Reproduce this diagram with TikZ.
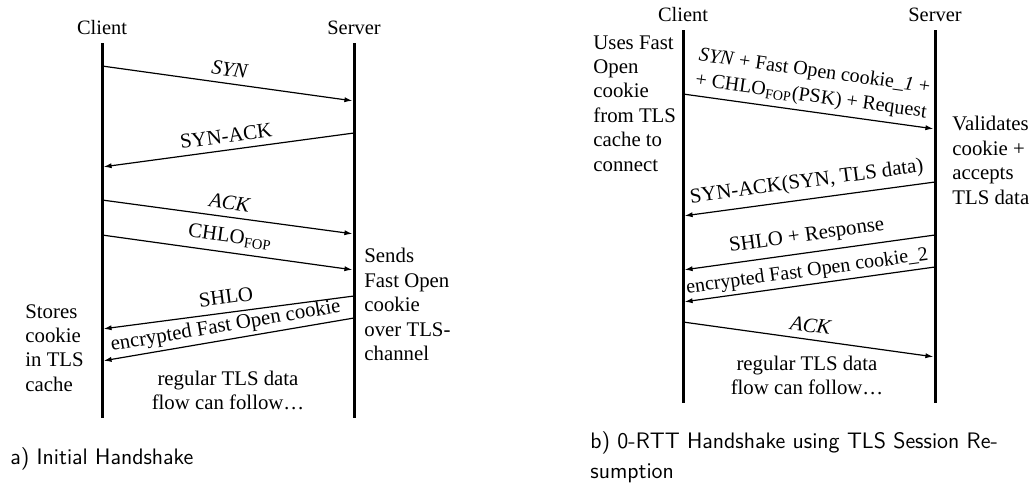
\documentclass[tikz,border=0pt]{standalone}
\usepackage{fontspec}
\setmainfont{Liberation Serif}
\usetikzlibrary{arrows.meta}
\begin{document}
\begin{tikzpicture}[x=0.5pt,y=-0.5pt,
  life/.style={line width=1.5pt},
  msg/.style={line width=0.6pt,-{Latex[length=4pt,width=2.6pt]},shorten >=0.8pt},
  rmsg/.style={line width=0.6pt,{Latex[length=4pt,width=2.6pt]}-,shorten <=0.8pt},
  lbl/.style={font=\fontsize{10.4}{12}\selectfont,above,sloped,align=center},
  slbl/.style={lbl,font=\fontsize{10}{12.6}\selectfont},
  head/.style={font=\fontsize{10.2}{12}\selectfont,anchor=base,inner sep=0pt},
  note/.style={font=\fontsize{10.4}{12.2}\selectfont,align=left,anchor=north west,inner sep=0pt},
  flow/.style={font=\fontsize{10.4}{12}\selectfont,align=center,anchor=north,inner sep=0pt},
  captext/.style={font=\sffamily\fontsize{11.2}{15}\selectfont,align=left,anchor=base west,inner sep=0pt}]
\useasboundingbox (0,0) rectangle (1029,483);

% ---------- a) Initial Handshake ----------
\node[head] (aclient) at (102,34) {Client};
\node[head] (aserver) at (354,34) {Server};
\coordinate (act) at (102,43); \coordinate (acb) at (102,418);
\coordinate (ast) at (354,43); \coordinate (asb) at (354,418);
\draw[life] (act) -- (acb);
\draw[life] (ast) -- (asb);

\coordinate (ac1) at (102,66);  \coordinate (as1) at (354,101);
\coordinate (ac2) at (102,167); \coordinate (as2) at (354,133);
\coordinate (ac3) at (102,200); \coordinate (as3) at (354,234);
\coordinate (ac4) at (102,235); \coordinate (as4) at (354,270);
\coordinate (ac5) at (102,329); \coordinate (as5) at (354,296);
\coordinate (ac6) at (102,361); \coordinate (as6) at (354,318);

\draw[msg] (ac1) -- node[lbl] {\textit{SYN}} (as1);
\draw[rmsg] (ac2) -- node[lbl] {SYN-ACK} (as2);
\draw[msg] (ac3) -- node[lbl] {\textit{ACK}} (as3);
\draw[msg] (ac4) -- node[lbl] {CHLO\textsubscript{FOP}} (as4);
\draw[rmsg] (ac5) -- node[lbl,inner sep=4pt] {SHLO} (as5);
\draw[rmsg] (ac6) -- node[lbl,inner sep=1.6pt] {encrypted Fast Open cookie} (as6);

\node[note] (astore) at (25,304) {Stores\\cookie\\in TLS\\cache};
\node[note] (asends) at (364,248) {Sends\\Fast Open\\cookie\\over TLS-\\channel};
\node[flow] (aflow) at (228,371) {regular TLS data\\flow can follow\ldots};

\node[captext] (acap) at (10,464) {a) Initial Handshake};

% ---------- b) 0-RTT Handshake ----------
\node[head] (bclient) at (683,21) {Client};
\node[head] (bserver) at (935,21) {Server};
\coordinate (bct) at (683,30); \coordinate (bcb) at (683,403);
\coordinate (bst) at (935,30); \coordinate (bsb) at (935,403);
\draw[life] (bct) -- (bcb);
\draw[life] (bst) -- (bsb);

\coordinate (bc1) at (683,94);  \coordinate (bs1) at (935,129);
\coordinate (bc2) at (683,216); \coordinate (bs2) at (935,182);
\coordinate (bc3) at (683,270); \coordinate (bs3) at (935,235);
\coordinate (bc4) at (683,302); \coordinate (bs4) at (935,267);
\coordinate (bc5) at (683,322); \coordinate (bs5) at (935,357);

\draw[msg] (bc1) -- node[slbl,inner sep=2.5pt] {\textit{SYN} + Fast Open cookie\_\textit{1} +\\+ CHLO\textsubscript{FOP}(PSK) + Request} (bs1);
\draw[rmsg] (bc2) -- node[lbl] {SYN-ACK(SYN, TLS data)} (bs2);
\draw[rmsg] (bc3) -- node[lbl] {SHLO + Response} (bs3);
\draw[rmsg] (bc4) -- node[slbl,inner sep=1.5pt] {encrypted Fast Open cookie\_2} (bs4);
\draw[msg] (bc5) -- node[lbl] {\textit{ACK}} (bs5);

\node[note] (buses) at (593,35) {Uses Fast\\Open\\cookie\\from TLS\\cache to\\connect};
\node[note] (bvalid) at (952,116) {Validates\\cookie +\\accepts\\TLS data};
\node[flow] (bflow) at (807,356) {regular TLS data\\flow can follow\ldots};

\node[captext] (bcap) at (590,478) {b) 0-RTT Handshake using TLS Session Re-\\sumption};
\end{tikzpicture}
\end{document}
